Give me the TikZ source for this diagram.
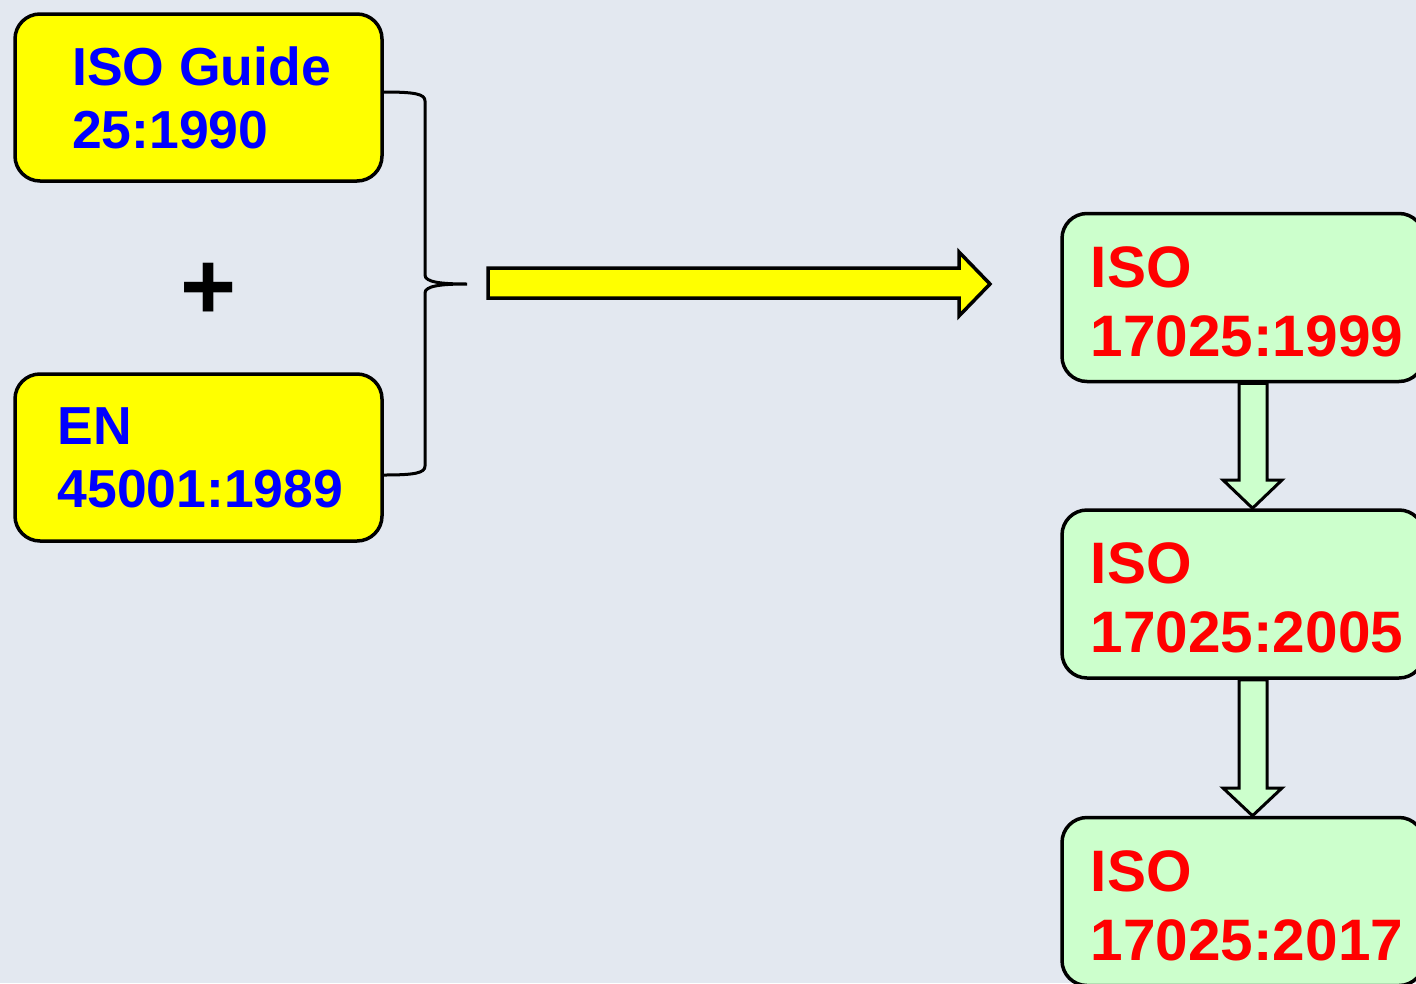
\documentclass[tikz,border=0pt]{standalone}
\usepackage{fontspec}
\setmainfont{Liberation Sans}
\usetikzlibrary{calc}
\definecolor{bgc}{HTML}{E3E8F0}
\definecolor{yfill}{HTML}{FFFF00}
\definecolor{gfill}{HTML}{CCFFCC}
\definecolor{tblue}{HTML}{0000FF}
\definecolor{tred}{HTML}{FF0000}
\begin{document}
\begin{tikzpicture}[x=1pt,y=-1pt,
  ybox/.style={draw=black, line width=3.5pt, rounded corners=25pt, fill=yfill,
    minimum width=367pt, minimum height=167pt, inner sep=0pt},
  ytext/.style={align=left, text=tblue, inner sep=0pt,
    font=\fontsize{53.5}{63}\selectfont\bfseries},
  gbox/.style={draw=black, line width=3.5pt, rounded corners=25pt, fill=gfill,
    minimum width=362pt, minimum height=168pt, inner sep=0pt},
  gtext/.style={align=left, text=tred, inner sep=0pt,
    font=\fontsize{58.5}{69}\selectfont\bfseries},
  bracestyle/.style={draw=black, line width=3pt},
  yarrow/.style={draw=black, line width=3.5pt, fill=yfill, line join=miter},
  garrow/.style={draw=black, line width=3pt, fill=gfill, line join=miter}]
\fill[bgc] (0,0) rectangle (1416,983);
\useasboundingbox (0,0) rectangle (1416,983);
\clip (0,0) rectangle (1416,983);

\node[ybox] (y1) at (198.5,97.5) {};
\node[ytext] (y1t) at ([xshift=3pt]y1.center) {ISO Guide\\25:1990};
\node[ybox] (y2) at (198.5,457.5) {};
\node[ytext] (y2t) at ([xshift=2pt]y2.center) {EN\\45001:1989};
\node[font=\fontsize{96}{96}\selectfont\bfseries, inner sep=0pt] (plus) at (208.5,291) {+};

\coordinate (btip) at (467,284);
\draw[bracestyle] ([yshift=5.5pt]y1.east) .. controls (415,92) and (425,94) .. (425,101)
  -- (425,275) .. controls (425,282) and (440,284) .. (btip)
  .. controls (440,284) and (425,286) .. (425,293)
  -- (425,466) .. controls (425,473) and (415,475) .. ([yshift=-17.5pt]y2.east);

\draw[yarrow] (488,268) -- (959,268) -- (959,252) -- (990,284) -- (959,316) -- (959,298) -- (488,298) -- cycle;

\node[gbox] (g1) at (1243,297.5) {};
\node[gtext] (g1t) at ([xshift=4pt,yshift=-4pt]g1.center) {ISO\\17025:1999};
\node[gbox] (g2) at (1243,594) {};
\node[gtext] (g2t) at ([xshift=4pt,yshift=-4pt]g2.center) {ISO\\17025:2005};
\node[gbox] (g3) at (1243,901.5) {};
\node[gtext] (g3t) at ([xshift=4pt,yshift=-4pt]g3.center) {ISO\\17025:2017};

\draw[garrow] (g1.south -| 1239,0) -- (1239,480) -- (1223,480) -- (g2.north -| 1252.5,0) -- (1282,480) -- (1267,480) -- (g1.south -| 1267,0) -- cycle;
\draw[garrow] (g2.south -| 1239,0) -- (1239,788) -- (1223,788) -- (g3.north -| 1252.5,0) -- (1282,788) -- (1267,788) -- (g2.south -| 1267,0) -- cycle;
\end{tikzpicture}
\end{document}
